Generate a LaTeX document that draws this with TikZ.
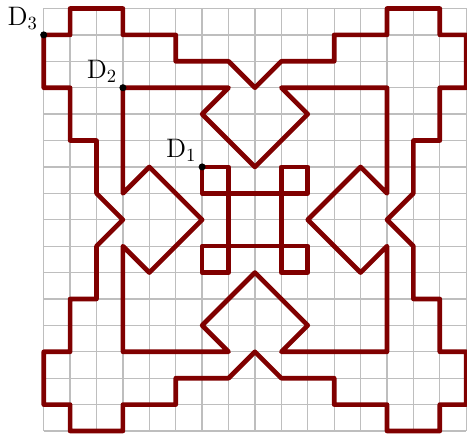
\documentclass[tikz,border=0pt]{standalone}
\usepackage{xcolor}
\usetikzlibrary{positioning}
\definecolor{curve}{HTML}{800000}
\definecolor{gridc}{HTML}{BEBEBE}
\tikzset{
  cell/.style={draw=gridc,line width=0.7pt},
  kolam/.style={draw=curve,line width=2.5pt,line join=round},
  dot/.style={circle,fill=black,inner sep=0pt,minimum size=3.8pt},
  lbl/.style={font=\Large,inner sep=0pt},
}
\begin{document}
\begin{tikzpicture}[x=0.5cm,y=-0.5cm]
  \useasboundingbox (-1.655,-0.322) rectangle (16.03,16.117);
  % grid
  \foreach \i in {0,...,16}{
    \draw[cell] (\i,0) -- (\i,16);
    \draw[cell] (0,\i) -- (16,\i);
  }
  % outer curve
  \draw[kolam] (0,1) -- (1,1) -- (1,0) -- (3,0) -- (3,1) -- (5,1) -- (5,2) -- (7,2) -- (8,3) -- (9,2) -- (11,2) -- (11,1) -- (13,1) -- (13,0)
    -- (15,0) -- (15,1) -- (16,1) -- (16,3) -- (15,3) -- (15,5) -- (14,5) -- (14,7) -- (13,8) -- (14,9) -- (14,11) -- (15,11) -- (15,13) -- (16,13)
    -- (16,15) -- (15,15) -- (15,16) -- (13,16) -- (13,15) -- (11,15) -- (11,14) -- (9,14) -- (8,13) -- (7,14) -- (5,14) -- (5,15) -- (3,15) -- (3,16)
    -- (1,16) -- (1,15) -- (0,15) -- (0,13) -- (1,13) -- (1,11) -- (2,11) -- (2,9) -- (3,8) -- (2,7) -- (2,5) -- (1,5) -- (1,3) -- (0,3) -- cycle;
  % middle curve
  \draw[kolam] (3,3) -- (7,3) -- (6,4) -- (8,6) -- (10,4) -- (9,3) -- (13,3) -- (13,7) -- (12,6) -- (10,8) -- (12,10) -- (13,9) -- (13,13) -- (9,13)
    -- (10,12) -- (8,10) -- (6,12) -- (7,13) -- (3,13) -- (3,9) -- (4,10) -- (6,8) -- (4,6) -- (3,7) -- cycle;
  % inner curve
  \draw[kolam] (6,6) -- (7,6) -- (7,10) -- (6,10) -- (6,9) -- (10,9) -- (10,10) -- (9,10) -- (9,6) -- (10,6) -- (10,7) -- (6,7) -- cycle;
  % start points
  \node[dot] (d1) at (6,6) {};
  \node[dot] (d2) at (3,3) {};
  \node[dot] (d3) at (0,1) {};
  \node[lbl,above left=1.2pt and 1.5pt of d1] (l1) {$\mathrm{D}_1$};
  \node[lbl,above left=1.2pt and 1.5pt of d2] (l2) {$\mathrm{D}_2$};
  \node[lbl,above left=1.2pt and 1.5pt of d3] (l3) {$\mathrm{D}_3$};
\end{tikzpicture}
\end{document}
